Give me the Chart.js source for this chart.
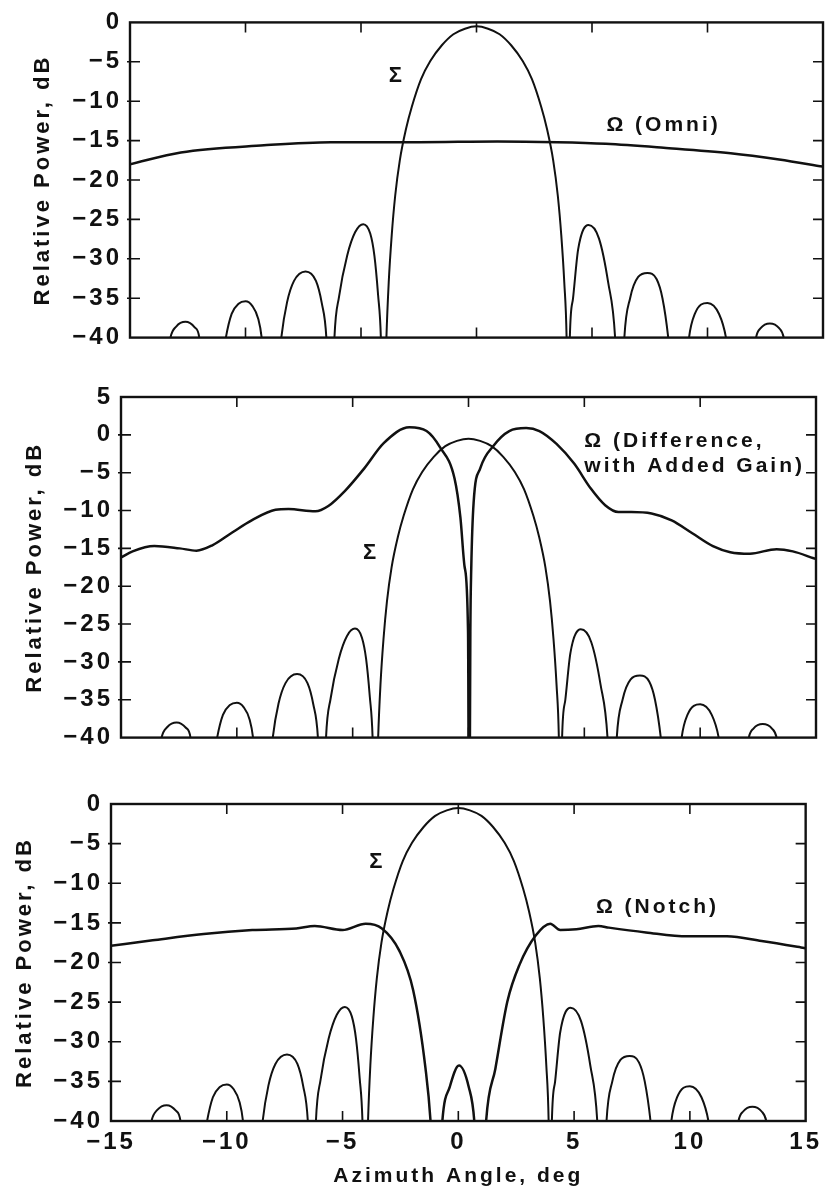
<!DOCTYPE html>
<html>
<head>
<meta charset="utf-8">
<script src="https://cdn.jsdelivr.net/npm/chart.js@4.4.1/dist/chart.umd.min.js"></script>
<style>
  body { margin: 0; background: #fff; width: 826px; height: 1193px; position: relative; overflow: hidden; }
  canvas { position: absolute; left: 0; }
</style>
</head>
<body>
<canvas id="omniChart" width="826" height="360" style="top:0"></canvas>
<canvas id="diffChart" width="826" height="400" style="top:360px"></canvas>
<canvas id="notchChart" width="826" height="433" style="top:760px"></canvas>
<script>
// sum pattern (Σ), same in all three panels
const sumAngles = [
    -14.0, -13.25, -13.0, -12.6, -12.2, -12.0, -11.6,
    -10.85, -10.6, -10.3, -10.0, -9.7, -9.45, -9.3, -8.9,
    -8.45, -8.2, -7.9, -7.4, -6.95, -6.7, -6.5, -6.3,
    -6.15, -5.95, -5.6, -5.25, -4.9, -4.6, -4.42, -4.26, -4.14, -4.03,
    -3.9, -3.8, -3.67, -3.52, -3.32, -3.05, -2.8, -2.4, -2.0, -1.5, -1.0, -0.5, 0,
    0.5, 1.0, 1.5, 2.0, 2.4, 2.8, 3.05, 3.32, 3.52, 3.67, 3.8, 3.9, 3.97,
    4.04, 4.18, 4.4, 4.85, 5.3, 5.7, 6.0, 6.2,
    6.4, 6.65, 7.0, 7.4, 7.8, 8.05, 8.3, 8.75,
    9.2, 9.45, 10.0, 10.5, 10.8, 11.45,
    12.1, 12.3, 12.7, 13.1, 13.3, 14.0
];
const sumValues = [
    -55, -40, -38.6, -38.0, -38.7, -40, -55,
    -40, -37.0, -35.7, -35.4, -36.0, -37.6, -40, -55,
    -40, -35.5, -32.8, -31.6, -32.8, -35.6, -40, -55,
    -40, -34.8, -29.6, -26.6, -25.6, -26.8, -29.6, -34.6, -40, -55,
    -40, -33, -27, -22, -17.5, -13.5, -10.7, -7.2, -4.9, -2.9, -1.5, -0.8, -0.5,
    -0.8, -1.5, -2.9, -4.9, -7.2, -10.7, -13.5, -17.5, -22, -27, -33, -40, -55,
    -40, -35.0, -28.8, -25.7, -27.4, -33.0, -40, -55,
    -40, -35.0, -32.3, -31.8, -32.6, -35.0, -40, -55,
    -40, -37.0, -35.6, -37.0, -40, -55,
    -40, -38.8, -38.2, -38.8, -40, -55
];

// Ω omni (top panel)
const omniAngles = [-15, -12.8, -9.2, -6.3, -2.5, 0.9, 3.5, 5.6, 8.1, 11, 13.1, 15];
const omniValues = [-18.0, -16.5, -15.6, -15.2, -15.2, -15.1, -15.2, -15.4, -15.9, -16.6, -17.4, -18.3];

// Ω difference with added gain (middle panel)
const diffAngles = [
    -15, -14.5, -13.56, -12.47, -11.74, -11.06, -10.2, -9.36, -8.33, -7.77,
    -6.61, -6.05, -5.33, -4.49, -3.66, -2.55, -1.81, -1.24, -0.6, -0.35,
    -0.17, -0.02, 0.03, 0.08, 0.12, 0.22, 0.51, 1.09, 1.76, 2.49,
    3.06, 3.8, 4.56, 5.28, 5.9, 6.47, 7.03, 7.9, 8.77, 9.66,
    10.55, 11.3, 12.15, 13.3, 14.0, 14.9, 15
];
const diffValues = [
    -16.2, -15.4, -14.7, -15.0, -15.3, -14.6, -12.9, -11.3, -9.9, -9.8,
    -10.1, -9.4, -7.4, -4.4, -1.1, 1.0, 0.5, -1.6, -5.8, -10.9,
    -17.4, -26, -60, -26, -17.5, -9.0, -4.4, -1.4, 0.5, 0.9,
    0.5, -1.2, -3.8, -7.1, -9.3, -10.2, -10.2, -10.4, -11.3, -13.0,
    -14.7, -15.5, -15.7, -15.1, -15.4, -16.3, -16.4
];

// Ω notch (bottom panel)
const notchAngles = [
    -15, -13.2, -11.0, -8.9, -7.0, -6.2, -5.0, -4.0, -3.3, -2.55,
    -1.95, -1.42, -1.2, -0.95, -0.69, -0.37, 0.03, 0.45, 0.69, 0.95,
    1.2, 1.6, 2.12, 2.64, 3.34, 3.97, 4.4, 5.1, 6.05, 6.5,
    8.1, 9.9, 11.6, 13.1, 14.8, 15
];
const notchValues = [
    -17.9, -17.2, -16.4, -15.9, -15.7, -15.4, -15.9, -15.1, -15.7, -18.5,
    -23.5, -33.3, -40, -55, -40, -35.7, -33.0, -35.7, -40, -55,
    -40, -33.4, -24.9, -20.3, -16.6, -15.1, -15.9, -15.8, -15.4, -15.6,
    -16.2, -16.7, -16.7, -17.3, -18.1, -18.2
];

const angleRange = [-15, 15];
const yTitle = 'Relative Power, dB';
const xTitle = 'Azimuth Angle, deg';

const ink = '#111';
const family = '"Liberation Sans", Arial, Helvetica, sans-serif';

function pts(xs, ys) {
    return xs.map((x, i) => ({ x: x, y: ys[i] }));
}

function minus(v) {
    return String(v).replace('-', '\u2212');
}

function line(xs, ys, width) {
    return {
        data: pts(xs, ys),
        borderColor: ink,
        borderWidth: width,
        pointRadius: 0,
        cubicInterpolationMode: 'monotone',
        fill: false
    };
}

// box with inward ticks + the curve labels
const frame = {
    id: 'frame',
    beforeDraw(chart) {
        chart.ctx.letterSpacing = '3px';
    },
    afterDatasetsDraw(chart, args, opts) {
        const { ctx, chartArea: a, scales: { x, y } } = chart;
        ctx.save();
        ctx.strokeStyle = ink;
        ctx.lineWidth = 1.6;
        ctx.beginPath();
        x.ticks.forEach(t => {
            if (t.value <= x.min || t.value >= x.max) return;
            const px = x.getPixelForValue(t.value);
            ctx.moveTo(px, a.top); ctx.lineTo(px, a.top + 10);
            ctx.moveTo(px, a.bottom); ctx.lineTo(px, a.bottom - 10);
        });
        y.ticks.forEach(t => {
            if (t.value <= y.min || t.value >= y.max) return;
            const py = y.getPixelForValue(t.value);
            ctx.moveTo(a.left - 3, py); ctx.lineTo(a.left + 10, py);
            ctx.moveTo(a.right, py); ctx.lineTo(a.right - 10, py);
        });
        ctx.stroke();
        ctx.lineWidth = 2.4;
        ctx.strokeRect(a.left, a.top, a.right - a.left, a.bottom - a.top);

        ctx.fillStyle = ink;
        ctx.textBaseline = 'middle';
        ctx.letterSpacing = '3px';
        (opts.notes || []).forEach(n => {
            ctx.font = 'bold ' + (n.size || 21) + 'px ' + family;
            ctx.textAlign = n.align;
            ctx.fillText(n.text, x.getPixelForValue(n.x), y.getPixelForValue(n.y));
        });
        ctx.restore();
    }
};

function makeChart(id, sets, yMax, o) {
    const tickFont = { family: family, size: 24, weight: 'bold' };
    return new Chart(document.getElementById(id), {
        type: 'line',
        data: { datasets: sets },
        options: {
            responsive: false,
            animation: false,
            layout: { padding: o.padding },
            plugins: {
                legend: { display: false },
                tooltip: { enabled: false },
                frame: { notes: o.notes }
            },
            scales: {
                x: {
                    type: 'linear',
                    min: angleRange[0],
                    max: angleRange[1],
                    grid: { display: false, drawTicks: false },
                    border: { display: false },
                    ticks: {
                        stepSize: 5,
                        display: o.showX,
                        color: ink,
                        font: tickFont,
                        padding: 7,
                        maxRotation: 0,
                        callback: minus
                    },
                    title: {
                        display: o.showX,
                        text: xTitle,
                        color: ink,
                        font: { family: family, size: 21, weight: 'bold' },
                        padding: { top: 0, bottom: 4 }
                    },
                    afterFit: s => { s.height = o.xHeight; }
                },
                y: {
                    min: -40,
                    max: yMax,
                    grid: { display: false, drawTicks: false },
                    border: { display: false },
                    ticks: {
                        stepSize: 5,
                        color: ink,
                        font: tickFont,
                        padding: 8,
                        callback: minus
                    },
                    title: {
                        display: true,
                        text: yTitle,
                        color: ink,
                        font: { family: family, size: 22, weight: 'bold' },
                        padding: { top: 0, bottom: 0 }
                    },
                    afterFit: s => { s.width = o.yWidth; }
                }
            }
        },
        plugins: [frame]
    });
}

makeChart('omniChart', [
    line(sumAngles, sumValues, 2),
    line(omniAngles, omniValues, 2.5)
], 0, {
    padding: { left: 30, top: 20, right: 3, bottom: 22 },
    yWidth: 100, xHeight: 0, showX: false,
    notes: [
        { text: 'Σ', x: -3.45, y: -6.8, align: 'center', size: 22 },
        { text: 'Ω (Omni)', x: 8.1, y: -13.1, align: 'center' }
    ]
});

makeChart('diffChart', [
    line(sumAngles, sumValues, 2),
    line(diffAngles, diffValues, 2.5)
], 5, {
    padding: { left: 22, top: 37, right: 10, bottom: 15 },
    yWidth: 99, xHeight: 0, showX: false,
    notes: [
        { text: 'Σ', x: -4.2, y: -15.6, align: 'center', size: 22 },
        { text: 'Ω (Difference,', x: 5.0, y: -0.8, align: 'left' },
        { text: 'with Added Gain)', x: 5.0, y: -4.1, align: 'left' }
    ]
});

makeChart('notchChart', [
    line(sumAngles, sumValues, 2),
    line(notchAngles, notchValues, 2.5)
], 0, {
    padding: { left: 12, top: 44, right: 18, bottom: 0 },
    yWidth: 99, xHeight: 72, showX: true,
    notes: [
        { text: 'Σ', x: -3.5, y: -7.3, align: 'center', size: 22 },
        { text: 'Ω (Notch)', x: 8.6, y: -13.0, align: 'center' }
    ]
});
</script>
</body>
</html>
